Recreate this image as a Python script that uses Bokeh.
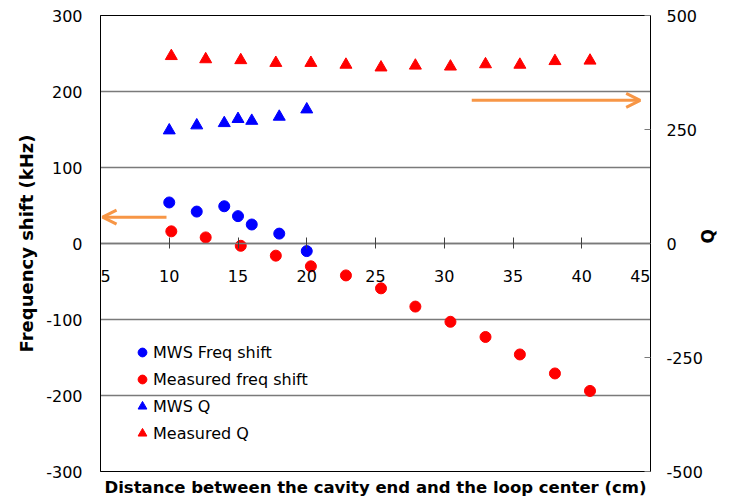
from math import pi
from bokeh.plotting import figure
from bokeh.models import Range1d, LinearAxis, FixedTicker, Arrow, OpenHead
from bokeh.embed import file_html
from bokeh.resources import INLINE

# ---------------- data ----------------
mws_x = [10, 12, 14, 15, 16, 18, 20]
mws_freq = [54, 42, 49, 36, 25, 13, -10]
mws_q = [248, 259, 264, 273, 269, 278, 294]

meas_x = [10.15, 12.65, 15.2, 17.75, 20.3, 22.85, 25.4, 27.9, 30.45, 33.0, 35.5, 38.05, 40.6]
meas_freq = [16, 8, -3, -16, -30, -42, -59, -83, -103, -123, -146, -171, -194]
meas_q = [411, 404, 402, 396, 396, 392, 386, 390, 388, 393, 392, 400, 401]

x_ticks = [5, 10, 15, 20, 25, 30, 35, 40, 45]
y_ticks = [-300, -200, -100, 0, 100, 200, 300]
q_ticks = [-500, -250, 0, 250, 500]

x_title = "Distance between the cavity end and the loop center (cm)"
y_title = "Frequency shift (kHz)"
q_title = "Q"

# arrows: (x_start, x_end, y)
left_arrow = (9.8, 5.15, 34.6)      # on kHz axis
right_arrow = (32.0, 44.25, 314)    # on Q axis

FONT = "DejaVu Sans"
GRID = "#7a7a7a"
ORANGE = "#F79646"
FS = "\u2007"  # figure space (digit width), keeps edge labels inside the frame

p = figure(width=730, height=504, output_backend="svg", toolbar_location=None,
           x_range=Range1d(5, 45), y_range=Range1d(-300, 300),
           min_border_left=100, min_border_right=78, min_border_top=15, min_border_bottom=33)
p.extra_y_ranges = {"q": Range1d(-500, 500)}
p.outline_line_color = "black"
p.outline_line_width = 1
p.outline_line_alpha = 1
p.background_fill_color = "white"
p.border_fill_color = "white"

# x axis crossing at zero
xa = p.xaxis[0]
xa.fixed_location = 0
xa.ticker = FixedTicker(ticks=x_ticks)
x_over = {t: str(t) for t in x_ticks}
x_over[x_ticks[0]] = FS + str(x_ticks[0])
x_over[x_ticks[-1]] = str(x_ticks[-1]) + FS + FS
xa.major_label_overrides = x_over
xa.major_tick_in = 6
xa.major_tick_out = 5
xa.minor_tick_in = 0
xa.minor_tick_out = 0
xa.axis_line_color = GRID
xa.axis_line_width = 1.5
xa.major_tick_line_color = "#404040"
xa.major_label_standoff = 18
xa.major_label_text_font = FONT
xa.major_label_text_font_size = "16px"
xa.major_label_text_color = "black"

# left axis
ya = p.yaxis[0]
ya.ticker = FixedTicker(ticks=y_ticks)
ya.major_label_overrides = {t: str(t) for t in y_ticks}
ya.major_tick_in = 0
ya.major_tick_out = 0
ya.minor_tick_in = 0
ya.minor_tick_out = 0
ya.axis_line_color = "black"
ya.major_label_standoff = 18
ya.major_label_text_font = FONT
ya.major_label_text_font_size = "16px"
ya.major_label_text_color = "black"
ya.axis_label = y_title
ya.axis_label_text_font = FONT
ya.axis_label_text_font_style = "bold"
ya.axis_label_text_font_size = "18px"
ya.axis_label_text_color = "black"
ya.axis_label_standoff = 6

p.xgrid.visible = False
p.ygrid.ticker = FixedTicker(ticks=y_ticks)
p.ygrid.grid_line_color = GRID
p.ygrid.grid_line_width = 1.5

# right Q axis
qa = LinearAxis(y_range_name="q", ticker=FixedTicker(ticks=q_ticks))
qa.major_label_overrides = {t: str(t) for t in q_ticks}
qa.major_tick_in = 6
qa.major_tick_out = 0
qa.minor_tick_in = 0
qa.minor_tick_out = 0
qa.axis_line_color = "black"
qa.major_tick_line_color = GRID
qa.major_label_standoff = 16
qa.major_label_text_font = FONT
qa.major_label_text_font_size = "16px"
qa.major_label_text_color = "black"
qa.axis_label = q_title
qa.axis_label_text_font = FONT
qa.axis_label_text_font_style = "bold"
qa.axis_label_text_font_size = "17px"
qa.axis_label_text_color = "black"
qa.axis_label_standoff = 2
try:
    qa.axis_label_orientation = pi / 2
except Exception:
    pass
p.add_layout(qa, "right")

# bottom title axis
ta = LinearAxis(ticker=FixedTicker(ticks=[]))
ta.axis_line_color = None
ta.major_tick_out = 0
ta.major_tick_in = 0
ta.minor_tick_out = 0
ta.minor_tick_in = 0
ta.major_label_standoff = 0
ta.axis_label = x_title
ta.axis_label_text_font = FONT
ta.axis_label_text_font_style = "bold"
ta.axis_label_text_font_size = "16.5px"
ta.axis_label_text_color = "black"
ta.axis_label_standoff = 6
p.add_layout(ta, "below")

# data
p.scatter(mws_x, mws_freq, marker="circle", size=11, color="#0000FF",
          legend_label="MWS Freq shift")
p.scatter(meas_x, meas_freq, marker="circle", size=11, color="#FF0000",
          legend_label="Measured freq shift")
p.scatter(mws_x, mws_q, marker="triangle", size=12, color="#0000FF",
          y_range_name="q", legend_label="MWS Q")
p.scatter(meas_x, meas_q, marker="triangle", size=12, color="#FF0000",
          y_range_name="q", legend_label="Measured Q")

# arrows
p.add_layout(Arrow(x_start=left_arrow[0], y_start=left_arrow[2],
                   x_end=left_arrow[1], y_end=left_arrow[2],
                   line_color=ORANGE, line_width=3,
                   end=OpenHead(size=14, line_color=ORANGE, line_width=3)))
p.add_layout(Arrow(x_start=right_arrow[0], y_start=right_arrow[2],
                   x_end=right_arrow[1], y_end=right_arrow[2], y_range_name="q",
                   line_color=ORANGE, line_width=3,
                   end=OpenHead(size=14, line_color=ORANGE, line_width=3)))

lg = p.legend[0]
lg.location = (31, 27)
lg.glyph_width = 22
lg.glyph_height = 22
lg.label_height = 22
lg.spacing = 5
lg.padding = 0
lg.margin = 0
lg.label_standoff = 0
lg.background_fill_alpha = 0
lg.border_line_color = None
lg.label_text_font = FONT
lg.label_text_font_size = "16px"
lg.label_text_color = "black"

open("out.html", "w").write(file_html(p, INLINE))
